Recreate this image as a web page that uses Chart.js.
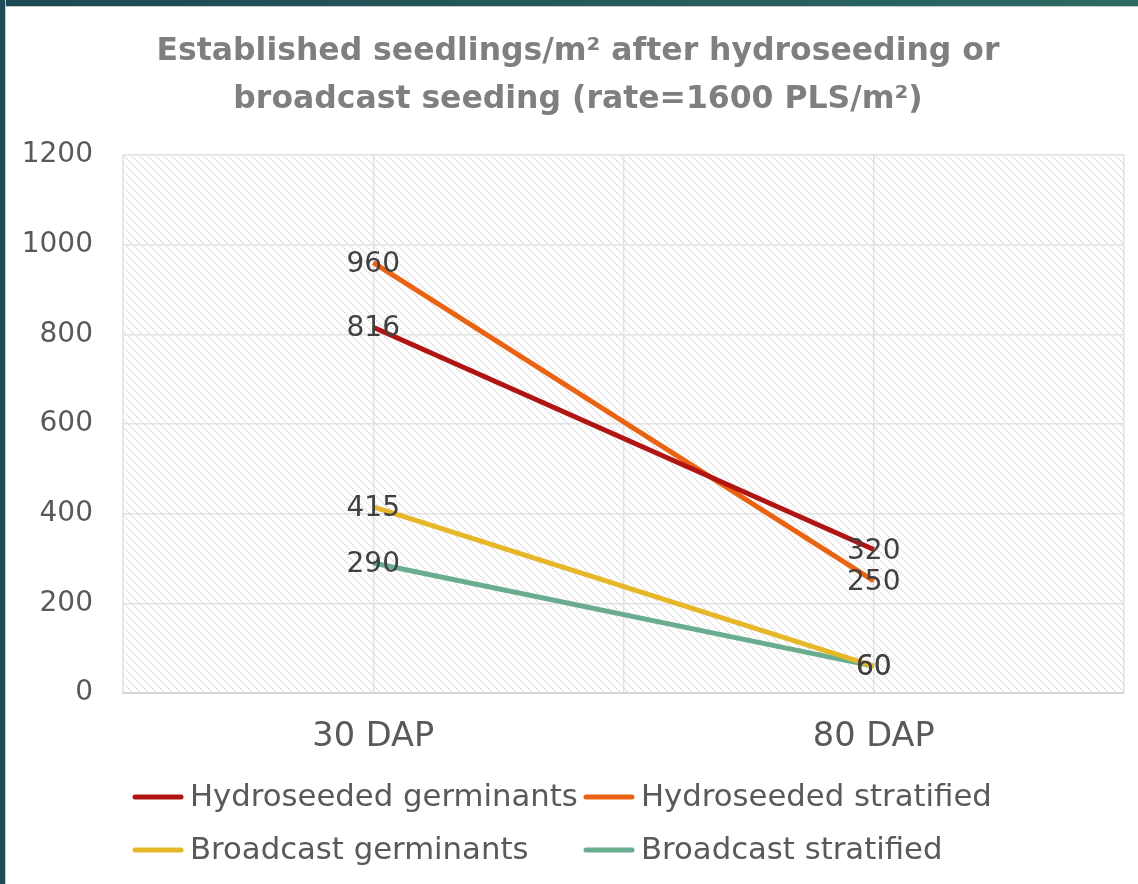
<!DOCTYPE html>
<html>
<head>
<meta charset="utf-8">
<script src="https://cdn.jsdelivr.net/npm/chart.js@4.4.1/dist/chart.umd.min.js"></script>
<style>
  html, body { margin: 0; padding: 0; background: #ffffff; }
  #wrap { position: relative; width: 1138px; height: 884px; overflow: hidden; }
  #c { position: absolute; left: 0; top: 0; }
  .frame-top { position: absolute; left: 0; top: 0; width: 1138px; height: 6px;
    background: linear-gradient(to right, #1c4852, #2c6a63); box-shadow: 0 1px 0 #c9c9c9; }
  .frame-left { position: absolute; left: 0; top: 0; width: 5px; height: 884px;
    background: #1d4c57; box-shadow: 1px 0 0 #c9c9c9; }
</style>
</head>
<body>
<div id="wrap">
  <canvas id="c" width="1138" height="884"></canvas>
  <div class="frame-top"></div>
  <div class="frame-left"></div>
</div>
<script>
// ---- data ----
const categories = ['30 DAP', '80 DAP'];
const seriesNames = ['Hydroseeded germinants', 'Hydroseeded stratified', 'Broadcast germinants', 'Broadcast stratified'];
const hydroGerminants = [816, 320];
const hydroStratified = [960, 250];
const broadcastGerminants = [415, 60];
const broadcastStratified = [290, 60];
const yMin = 0, yMax = 1200, yStep = 200;
const titleLines = ['Established seedlings/m\u00B2 after hydroseeding or', 'broadcast seeding (rate=1600 PLS/m\u00B2)'];

// ---- styling helpers ----
const FAMILY = '"DejaVu Sans", sans-serif';
const mctx = document.createElement('canvas').getContext('2d');
function fitSize(text, weight, target) {
  mctx.font = weight + ' 100px ' + FAMILY;
  return 100 * target / mctx.measureText(text).width;
}
const titleSize = fitSize(titleLines[0], 'bold', 843);
const legendSize = fitSize(seriesNames[0], 'normal', 388);
const xTickSize = fitSize(categories[0], 'normal', 122);
const yTickSize = 28;
const labelSize = 28;

const colors = ['#b01513', '#ea6312', '#e6b729', '#6aac90'];
const seriesData = [hydroGerminants, hydroStratified, broadcastGerminants, broadcastStratified];

// hatched plot background (dotted downward diagonals)
function makeHatch() {
  const p = document.createElement('canvas');
  p.width = 8; p.height = 8;
  const g = p.getContext('2d');
  g.fillStyle = '#ffffff';
  g.fillRect(0, 0, 8, 8);
  g.fillStyle = '#dcdcdc';
  for (let k = 0; k < 8; k += 2) g.fillRect(k, k, 1.6, 1.6);
  return p;
}

const hatchPlugin = {
  id: 'hatch',
  beforeDraw(chart) {
    const { ctx, chartArea: a } = chart;
    ctx.save();
    ctx.fillStyle = ctx.createPattern(makeHatch(), 'repeat');
    ctx.fillRect(a.left, a.top, a.right - a.left, a.bottom - a.top);
    ctx.restore();
  }
};

const valueLabelPlugin = {
  id: 'valueLabels',
  afterDatasetsDraw(chart) {
    const ctx = chart.ctx;
    ctx.save();
    ctx.font = 'normal ' + labelSize + 'px ' + FAMILY;
    ctx.fillStyle = '#404040';
    ctx.textAlign = 'center';
    ctx.textBaseline = 'middle';
    chart.data.datasets.forEach((ds, i) => {
      const meta = chart.getDatasetMeta(i);
      meta.data.forEach((pt, j) => {
        ctx.fillText(String(ds.data[j]), pt.x, pt.y + 2);
      });
    });
    ctx.restore();
  }
};

const gridLegendPlugin = {
  id: 'gridLegend',
  afterDraw(chart, args, opts) {
    const ctx = chart.ctx;
    const a = chart.chartArea;
    ctx.save();
    ctx.font = 'normal ' + legendSize + 'px ' + FAMILY;
    ctx.textBaseline = 'middle';
    ctx.textAlign = 'left';
    chart.data.datasets.forEach((ds, i) => {
      const col = i % 2, row = Math.floor(i / 2);
      const x = a.left + opts.colOffsets[col];
      const y = a.bottom + opts.rowOffsets[row];
      ctx.strokeStyle = ds.borderColor;
      ctx.lineWidth = 5;
      ctx.lineCap = 'round';
      ctx.beginPath();
      ctx.moveTo(x + 2, y);
      ctx.lineTo(x + 48, y);
      ctx.stroke();
      ctx.fillStyle = '#595959';
      ctx.fillText(ds.label, x + 57, y + 1);
    });
    ctx.restore();
  }
};

const datasets = seriesNames.map((name, i) => ({
  label: name,
  data: seriesData[i],
  borderColor: colors[i],
  backgroundColor: colors[i],
  borderWidth: 5,
  pointRadius: 0,
  pointHoverRadius: 0,
  tension: 0,
  xAxisID: 'x',
  yAxisID: 'y'
}));

new Chart(document.getElementById('c'), {
  type: 'line',
  data: { labels: categories, datasets },
  plugins: [hatchPlugin, valueLabelPlugin, gridLegendPlugin],
  options: {
    responsive: false,
    animation: false,
    events: [],
    layout: { padding: { top: 0, left: 18, right: 0, bottom: 111 } },
    plugins: {
      legend: { display: false },
      tooltip: { enabled: false },
      title: {
        display: true,
        text: titleLines,
        color: '#7f7f7f',
        font: { family: FAMILY, weight: 'bold', size: titleSize, lineHeight: '48px' },
        padding: { top: 28, bottom: 31 }
      },
      gridLegend: { colOffsets: [10, 461], rowOffsets: [104, 157] }
    },
    scales: {
      x: {
        type: 'category',
        offset: true,
        grid: { offset: true, color: '#e2e2e2', lineWidth: 1.5, drawTicks: false },
        border: { display: true, color: '#d6d6d6', width: 2 },
        ticks: {
          color: '#595959',
          font: { family: FAMILY, size: xTickSize },
          padding: 44 - xTickSize * 0.6
        },
        afterFit(s) { s.height = 80; }
      },
      x2: {
        type: 'category',
        position: 'bottom',
        offset: true,
        grid: { offset: false, color: '#e2e2e2', lineWidth: 1.5, drawTicks: false },
        border: { display: false },
        ticks: { display: false },
        afterFit(s) { s.height = 0; }
      },
      y: {
        min: yMin,
        max: yMax,
        ticks: {
          stepSize: yStep,
          color: '#595959',
          font: { family: FAMILY, size: yTickSize },
          padding: 30,
          callback: (v) => String(v)
        },
        grid: { color: '#e2e2e2', lineWidth: 1.5, drawTicks: false },
        border: { display: false },
        afterFit(s) { s.width = 105; }
      },
      yRight: {
        type: 'linear',
        position: 'right',
        grid: { display: false, drawTicks: false },
        border: { display: false },
        ticks: { display: false },
        afterFit(s) { s.width = 14; }
      }
    }
  }
});
</script>
</body>
</html>
